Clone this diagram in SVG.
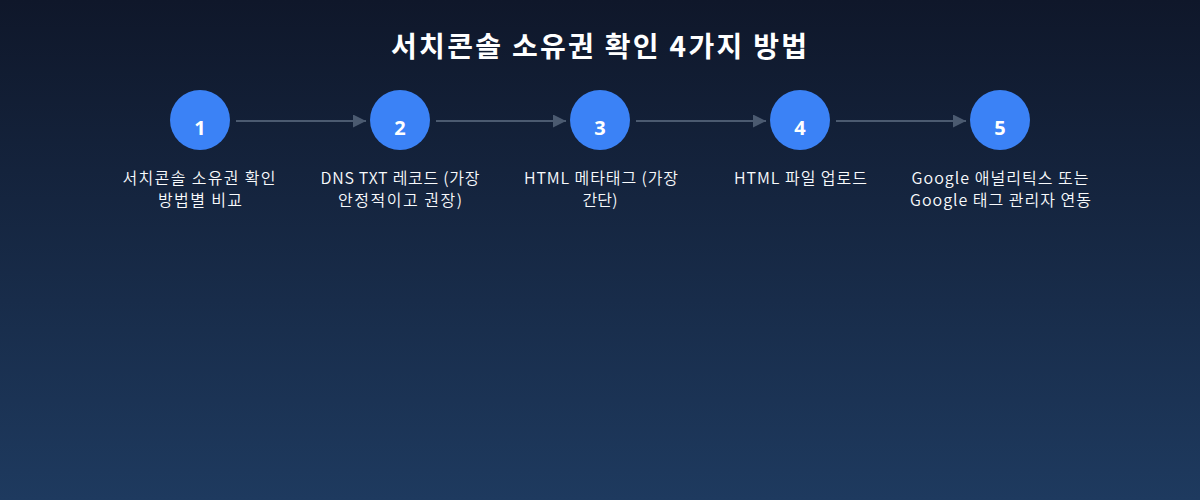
<svg xmlns="http://www.w3.org/2000/svg" width="1200" height="500" viewBox="0 0 1200 500">
<defs>
<linearGradient id="bg" x1="0" y1="0" x2="0" y2="1">
<stop offset="0" stop-color="#0f172a"/>
<stop offset="1" stop-color="#1e3a5f"/>
</linearGradient>
<marker id="arr" viewBox="0 0 10 10" refX="10" refY="5" markerWidth="13" markerHeight="13" markerUnits="userSpaceOnUse" orient="auto">
<path d="M0,0 L10,5 L0,10 z" fill="#4b5a70"/>
</marker>
</defs>
<style>
.title{font-family:"Noto Sans CJK KR","Noto Sans",sans-serif;font-size:28px;font-weight:700;fill:#ffffff}
.c{fill:#3b82f6}
.num{font-family:"Open Sans","Noto Sans",sans-serif;font-size:20px;font-weight:700;fill:#ffffff;text-anchor:middle}
.lbl{font-family:"Noto Sans CJK KR","Noto Sans",sans-serif;font-size:16px;font-weight:350;fill:#f8fafc}
.ln{stroke:#4b5a70;stroke-width:2;fill:none}
</style>
<rect width="1200" height="500" fill="url(#bg)"/>
<text class="title" x="391" y="57" textLength="416" lengthAdjust="spacing">서치콘솔 소유권 확인 4가지 방법</text>
<g id="connectors">
<line class="ln" x1="236" y1="121" x2="366" y2="121" marker-end="url(#arr)"/>
<line class="ln" x1="436" y1="121" x2="566" y2="121" marker-end="url(#arr)"/>
<line class="ln" x1="636" y1="121" x2="766" y2="121" marker-end="url(#arr)"/>
<line class="ln" x1="836" y1="121" x2="966" y2="121" marker-end="url(#arr)"/>
</g>
<g id="node1">
<circle class="c" cx="200" cy="120" r="30"/>
<text class="num" x="200" y="135">1</text>
<text class="lbl" x="122.5" y="184" textLength="153" lengthAdjust="spacing">서치콘솔 소유권 확인</text>
<text class="lbl" x="158" y="206" textLength="84" lengthAdjust="spacing">방법별 비교</text>
</g>
<g id="node2">
<circle class="c" cx="400" cy="120" r="30"/>
<text class="num" x="400" y="135">2</text>
<text class="lbl" x="320.5" y="184" textLength="159" lengthAdjust="spacing">DNS TXT 레코드 (가장</text>
<text class="lbl" x="338" y="206" textLength="124" lengthAdjust="spacing">안정적이고 권장)</text>
</g>
<g id="node3">
<circle class="c" cx="600" cy="120" r="30"/>
<text class="num" x="600" y="135">3</text>
<text class="lbl" x="524" y="184" textLength="154" lengthAdjust="spacing">HTML 메타태그 (가장</text>
<text class="lbl" x="582.5" y="206" textLength="35" lengthAdjust="spacing">간단)</text>
</g>
<g id="node4">
<circle class="c" cx="800" cy="120" r="30"/>
<text class="num" x="800" y="135">4</text>
<text class="lbl" x="734" y="184" textLength="133" lengthAdjust="spacing">HTML 파일 업로드</text>
</g>
<g id="node5">
<circle class="c" cx="1000" cy="120" r="30"/>
<text class="num" x="1000" y="135">5</text>
<text class="lbl" x="911.5" y="184" textLength="177" lengthAdjust="spacing">Google 애널리틱스 또는</text>
<text class="lbl" x="910" y="206" textLength="181" lengthAdjust="spacing">Google 태그 관리자 연동</text>
</g>
</svg>
